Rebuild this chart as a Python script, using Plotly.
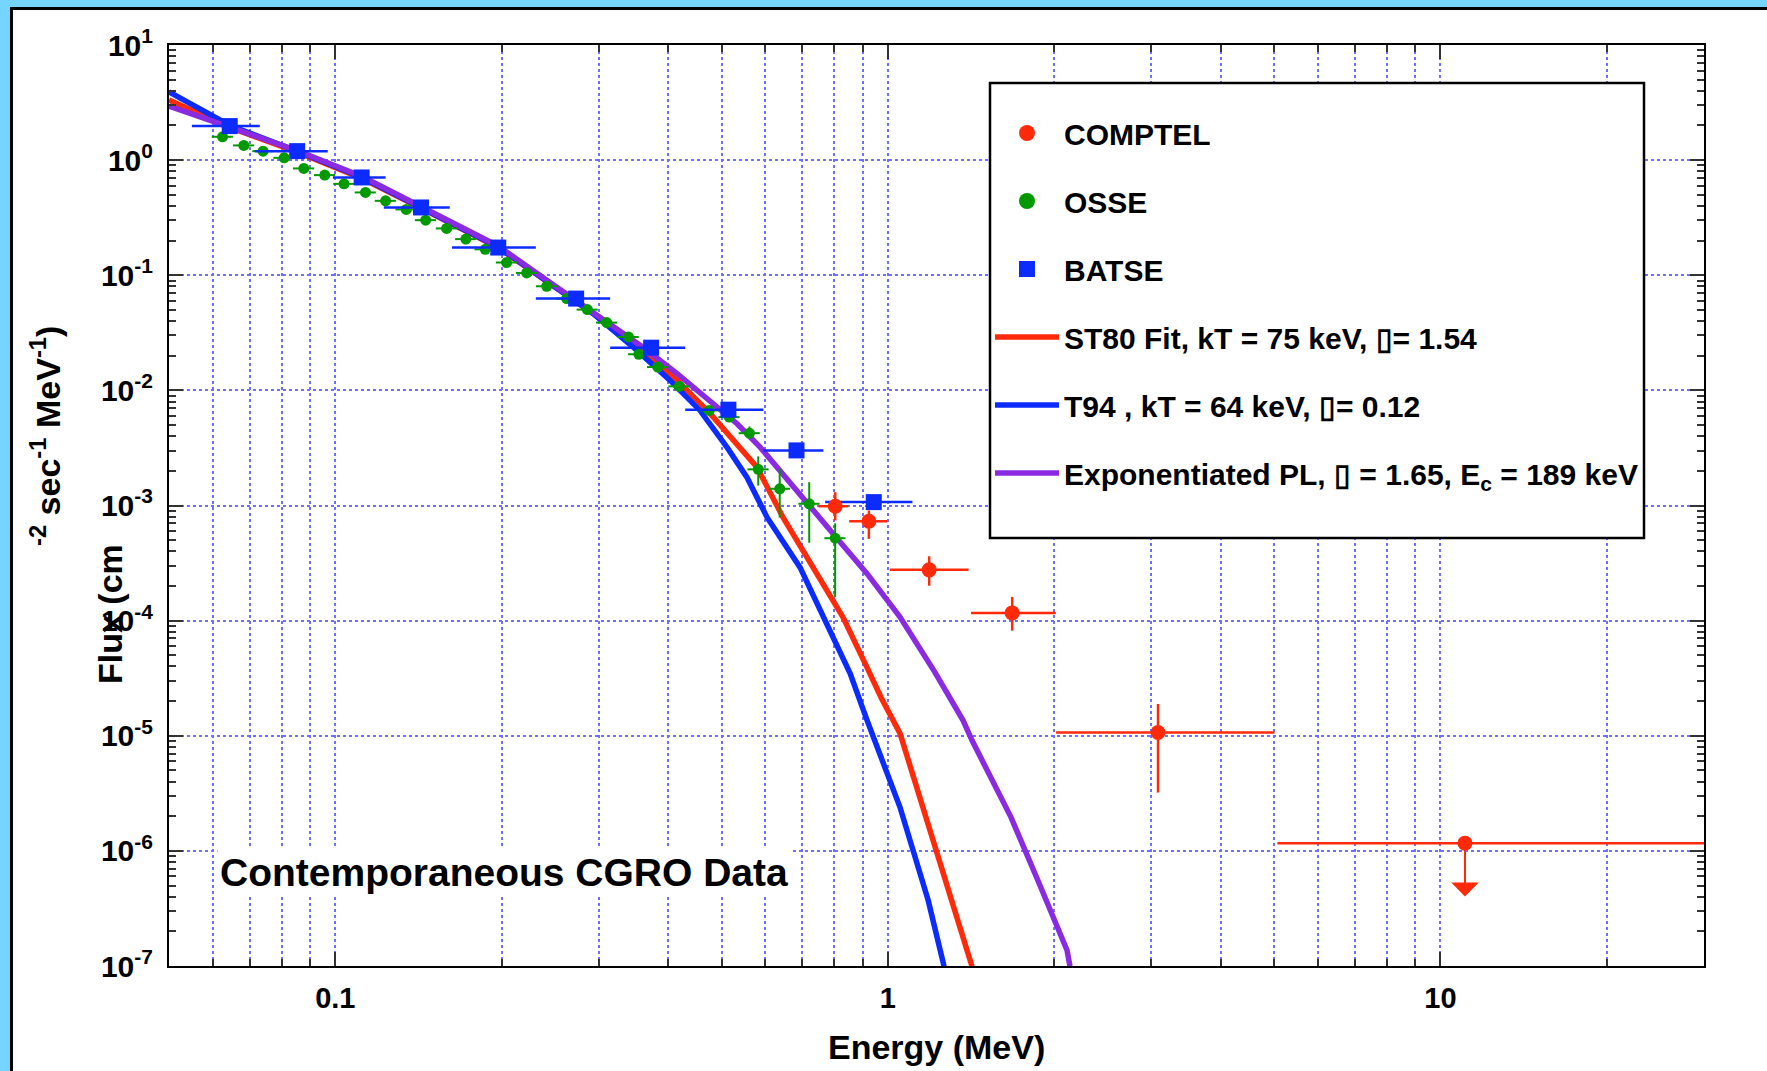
import math
import plotly.graph_objects as go

# ---------------- data ----------------
# BATSE (energy in MeV, flux, energy bin edges)
batse_e = [0.0644, 0.0853, 0.1116, 0.1429, 0.1972, 0.2728, 0.3729, 0.5145, 0.6834, 0.9430]
batse_f = [1.975, 1.197, 0.707, 0.388, 0.174, 0.0627, 0.0235, 0.00680, 0.00301, 0.00107]
batse_elo = [0.0550, 0.0715, 0.0990, 0.1224, 0.1626, 0.2306, 0.3143, 0.4298, 0.5953, 0.770]
batse_ehi = [0.0730, 0.0969, 0.1233, 0.1611, 0.2306, 0.3143, 0.4298, 0.5953, 0.7643, 1.108]

# OSSE
osse_e = [0.0625, 0.0683, 0.0740, 0.0808, 0.0877, 0.0957, 0.1037, 0.1134, 0.1233, 0.1344,
          0.1457, 0.1590, 0.1723, 0.1868, 0.2042, 0.2220, 0.2413, 0.2623, 0.2859, 0.3100,
          0.3392, 0.3543, 0.3834, 0.4191, 0.4748, 0.5162, 0.5617, 0.5827, 0.6372, 0.7206, 0.8028]
osse_f = [1.595, 1.342, 1.197, 1.047, 0.847, 0.741, 0.622, 0.524, 0.443, 0.373,
          0.301, 0.255, 0.206, 0.168, 0.129, 0.1047, 0.0802, 0.0627, 0.0503, 0.0388,
          0.0291, 0.0206, 0.01595, 0.01083, 0.0067, 0.00586, 0.00425, 0.00206, 0.001397, 0.001035, 0.00052]
osse_dy_plus = [0] * 26 + [0.00061, 0.00061, 0.00070, 0.00056, 0.00018]
osse_dy_minus = [0] * 26 + [0.00043, 0.00057, 0.00061, 0.00056, 0.00036]
osse_bin_pct = 4.4  # half bin width, percent

# COMPTEL (last point is an upper limit)
comptel_e = [0.803, 0.924, 1.188, 1.679, 3.083, 11.08]
comptel_f = [9.86e-4, 7.30e-4, 2.76e-4, 1.167e-4, 1.068e-5, 1.167e-6]
comptel_elo = [0.749, 0.851, 1.008, 1.414, 2.016, 5.07]
comptel_ehi = [0.848, 0.997, 1.400, 2.014, 5.01, 30.5]
comptel_fhi = [1.305e-3, 9.05e-4, 3.62e-4, 1.607e-4, 1.887e-5, None]
comptel_flo = [7.41e-4, 5.13e-4, 2.01e-4, 8.18e-5, 3.21e-6, None]

# model curves
st80_e = [0.05, 0.06447, 0.0852, 0.1118, 0.1423, 0.1970, 0.2551, 0.2927, 0.3604, 0.4155,
          0.4766, 0.5246, 0.5799, 0.6461, 0.7445, 0.8296, 0.9131, 0.9741, 1.052, 1.207, 1.391, 1.420]
st80_f = [3.33, 1.921, 1.177, 0.6929, 0.3879, 0.1744, 0.07379, 0.0466, 0.02094, 0.0122,
          0.006307, 0.003675, 0.002142, 7.88e-4, 2.57e-4, 1.067e-4, 4.09e-5, 2.11e-5, 1.049e-5,
          1.235e-6, 1.369e-7, 9.94e-8]

t94_e = [0.05, 0.06447, 0.0852, 0.1118, 0.1423, 0.1970, 0.2551, 0.2927, 0.3516, 0.4035,
         0.4571, 0.5117, 0.5560, 0.6046, 0.6935, 0.7960, 0.8544, 0.9171, 1.052, 1.183, 1.264]
t94_f = [3.91, 2.000, 1.201, 0.7069, 0.3918, 0.1761, 0.07379, 0.0466, 0.02223, 0.0122,
         0.006697, 0.003195, 0.001754, 7.88e-4, 2.90e-4, 7.15e-5, 3.48e-5, 1.36e-5, 2.39e-6,
         3.72e-7, 9.94e-8]

epl_e = [0.05, 0.06447, 0.0852, 0.1118, 0.1423, 0.1970, 0.2551, 0.2927, 0.3604, 0.4155,
         0.4766, 0.5335, 0.5871, 0.6461, 0.7960, 0.9171, 1.052, 1.217, 1.368, 1.420,
         1.671, 1.878, 2.110, 2.136]
epl_f = [2.953, 1.941, 1.213, 0.7211, 0.4039, 0.1796, 0.07528, 0.04781, 0.02374, 0.01395,
         0.00818, 0.005134, 0.003214, 0.001888, 5.69e-4, 2.56e-4, 1.074e-4, 3.55e-5, 1.36e-5,
         9.12e-6, 1.956e-6, 5.23e-7, 1.369e-7, 9.94e-8]

y_decades = [-7, -6, -5, -4, -3, -2, -1, 0, 1]
x_labels = [0.1, 1, 10]

# ---------------- style ----------------
RED = '#FF2A0A'
BLUE = '#0B2BFF'
PURPLE = '#8A2BE2'
GREEN = '#009900'
GRID = '#7070FF'
FRAME = '#75D5FE'
FONT = 'Liberation Sans, Arial, sans-serif'

W, H = 1767, 1071
L, R, T, B = 169, 63, 45, 105
PW, PH = W - L - R, H - T - B


def px(x):
    # pixel -> paper x
    return (x - L) / PW


def py(y):
    # pixel -> paper y
    return (H - B - y) / PH


def bold(size, color='black'):
    return dict(family=FONT, size=size, color=color, weight='bold')


fig = go.Figure()

# legend-only entries for the data sets
for name, col, sym, grp in [('COMPTEL', RED, 'circle', 'a'),
                            ('OSSE', GREEN, 'circle', 'b'),
                            ('BATSE', BLUE, 'square', 'c')]:
    fig.add_trace(go.Scatter(x=[None], y=[None], mode='markers', name=name,
                             marker=dict(color=col, size=16, symbol=sym),
                             legendgroup=grp))

# model curves
fig.add_trace(go.Scatter(x=st80_e, y=st80_f, mode='lines', legendgroup='d',
                         name='ST80 Fit, kT = 75 keV, \u25af= 1.54',
                         line=dict(color=RED, width=5.5)))
fig.add_trace(go.Scatter(x=t94_e, y=t94_f, mode='lines', legendgroup='e',
                         name='T94 , kT = 64 keV, \u25af= 0.12',
                         line=dict(color=BLUE, width=5.5)))
fig.add_trace(go.Scatter(x=epl_e, y=epl_f, mode='lines', legendgroup='f',
                         name='Exponentiated PL, \u25af = 1.65, E<sub>c</sub> = 189 keV',
                         line=dict(color=PURPLE, width=5.5)))

# OSSE points
fig.add_trace(go.Scatter(
    x=osse_e, y=osse_f, mode='markers', showlegend=False,
    marker=dict(color=GREEN, size=11),
    error_x=dict(type='percent', value=osse_bin_pct, color=GREEN, thickness=2, width=0),
    error_y=dict(type='data', array=osse_dy_plus, arrayminus=osse_dy_minus,
                 color=GREEN, thickness=2, width=0),
))

# BATSE points
fig.add_trace(go.Scatter(
    x=batse_e, y=batse_f, mode='markers', showlegend=False,
    marker=dict(color=BLUE, size=16, symbol='square'),
    error_x=dict(type='data', array=[h - e for e, h in zip(batse_e, batse_ehi)],
                 arrayminus=[e - l for e, l in zip(batse_e, batse_elo)],
                 color=BLUE, thickness=2.5, width=0),
))

# COMPTEL points
fig.add_trace(go.Scatter(
    x=comptel_e, y=comptel_f, mode='markers', showlegend=False,
    marker=dict(color=RED, size=15),
    error_x=dict(type='data', array=[h - e for e, h in zip(comptel_e, comptel_ehi)],
                 arrayminus=[e - l for e, l in zip(comptel_e, comptel_elo)],
                 color=RED, thickness=2.5, width=0),
    error_y=dict(type='data',
                 array=[(h - f) if h else 0 for f, h in zip(comptel_f, comptel_fhi)],
                 arrayminus=[(f - l) if l else 0 for f, l in zip(comptel_f, comptel_flo)],
                 color=RED, thickness=2.5, width=0),
))

# upper limit arrow on the last COMPTEL point
ul_e, ul_f = comptel_e[-1], comptel_f[-1]
fig.add_annotation(x=math.log10(ul_e), y=math.log10(ul_f / 2.9), xref='x', yref='y',
                   ax=math.log10(ul_e), ay=math.log10(ul_f), axref='x', ayref='y',
                   text='', showarrow=True, arrowhead=1, arrowsize=2.3, arrowwidth=2,
                   arrowcolor=RED, standoff=0, startstandoff=0)

# axes ticks / grid
x_minor = [k * 10.0 ** p for p in (-2, -1, 0, 1) for k in range(2, 10)
           if 0.055 < k * 10.0 ** p < 29]
y_minor = [k * 10.0 ** p for p in range(-7, 1) for k in range(2, 10)]

axis_common = dict(
    type='log', showline=True, linecolor='black', linewidth=2, mirror='ticks',
    ticks='inside', ticklen=14, tickwidth=1.5, tickcolor='#333333',
    showgrid=True, gridcolor=GRID, griddash='dot', gridwidth=1.5, zeroline=False,
)

fig.update_layout(
    width=W, height=H,
    margin=dict(l=L, r=R, t=T, b=B),
    paper_bgcolor='white', plot_bgcolor='white',
    font=bold(26),
    xaxis=dict(
        axis_common,
        range=[math.log10(0.05), math.log10(30)],
        tickvals=x_labels, ticktext=[f'{v:g}' for v in x_labels],
        tickfont=bold(29), ticklabelstandoff=5,
        minor=dict(tickvals=x_minor, ticks='inside', ticklen=7, tickwidth=1.5,
                   tickcolor='#333333', showgrid=True, gridcolor=GRID,
                   griddash='dot', gridwidth=1.5),
    ),
    yaxis=dict(
        axis_common,
        range=[-7, 1],
        tickvals=[10.0 ** d for d in y_decades],
        ticktext=[f'10<sup>{d}</sup>' for d in y_decades],
        tickfont=bold(30), ticklabelstandoff=8,
        minor=dict(tickvals=y_minor, ticks='inside', ticklen=7, tickwidth=1.5,
                   tickcolor='#333333', showgrid=False),
    ),
    showlegend=True,
    legend=dict(x=px(990), y=py(107), xanchor='left', yanchor='top',
                bgcolor='rgba(0,0,0,0)', borderwidth=0,
                font=bold(30), traceorder='grouped', tracegroupgap=26,
                itemwidth=64, itemclick=False),
)

# legend box, text and slide frame
shapes = [
    dict(type='rect', xref='paper', yref='paper', x0=px(990), x1=px(1644), y0=py(538), y1=py(83),
         fillcolor='white', line=dict(color='black', width=2.5), layer='above'),
    dict(type='rect', xref='paper', yref='paper', x0=px(0), x1=px(10), y0=py(H), y1=py(0),
         fillcolor=FRAME, line=dict(width=0)),
    dict(type='rect', xref='paper', yref='paper', x0=px(0), x1=px(W), y0=py(7), y1=py(0),
         fillcolor=FRAME, line=dict(width=0)),
    dict(type='rect', xref='paper', yref='paper', x0=px(10), x1=px(13), y0=py(H), y1=py(7),
         fillcolor='black', line=dict(width=0)),
    dict(type='rect', xref='paper', yref='paper', x0=px(10), x1=px(W), y0=py(10), y1=py(7),
         fillcolor='black', line=dict(width=0)),
]
fig.update_layout(shapes=shapes)

fig.add_annotation(x=px(504), y=py(872), xref='paper', yref='paper',
                   text='Contemporaneous CGRO Data', showarrow=False,
                   font=bold(39), bgcolor='white', borderpad=2,
                   xanchor='center', yanchor='middle')
fig.add_annotation(x=px(936), y=py(1047), xref='paper', yref='paper',
                   text='Energy (MeV)', showarrow=False, font=bold(34),
                   xanchor='center', yanchor='middle')
fig.add_annotation(x=px(110), y=py(614), xref='paper', yref='paper',
                   text='Flux (cm', showarrow=False, font=bold(34), textangle=-90,
                   xanchor='center', yanchor='middle')
fig.add_annotation(x=px(46), y=py(436), xref='paper', yref='paper',
                   text='<sup>-2</sup> sec<sup>-1</sup> MeV<sup>-1</sup>)', showarrow=False,
                   font=bold(34), textangle=-90, xanchor='center', yanchor='middle')

# page body has a default margin; drop it so the figure sits at the window origin
fig.write_html("out.html", config={'displayModeBar': False},
               post_script="document.body.style.margin='0';")
